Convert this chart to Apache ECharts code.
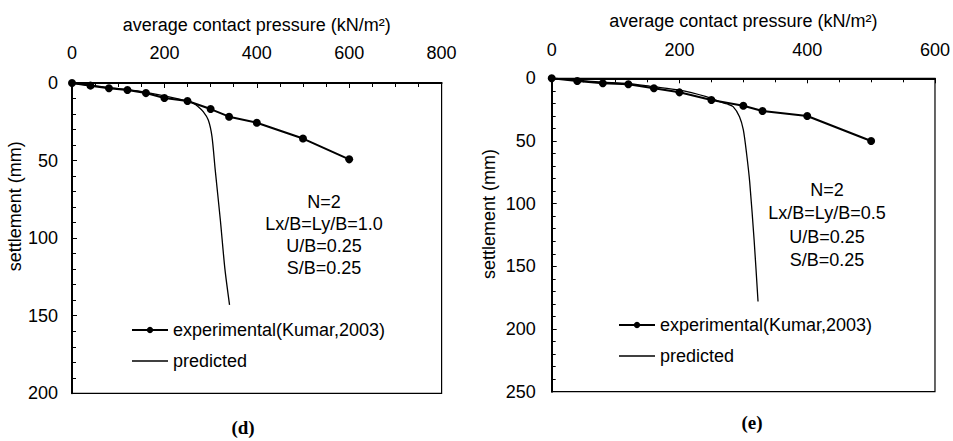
<!DOCTYPE html>
<html><head><meta charset="utf-8">
<script src="https://cdn.jsdelivr.net/npm/echarts@6/dist/echarts.min.js"></script>
<style>html,body{margin:0;padding:0;background:#fff}#c{width:953px;height:441px}</style>
</head><body><div id="c"></div>
<script>
// ---- data ----
const expName = 'experimental(Kumar,2003)';
const predName = 'predicted';
const xName = 'average contact pressure (kN/m\u00B2)';
const yName = 'settlement (mm)';

// chart (d)
const dExpPressure = [0, 40, 80, 120, 160, 200, 250, 300, 340, 400, 500, 600];
const dExpSettle   = [0, 1.7, 3.4, 4.5, 6.5, 9.7, 11.6, 16.8, 21.7, 25.6, 35.8, 49.2];
const dPredPressure = [0, 40, 80, 120, 160, 200, 230, 250, 262, 272, 284, 295, 303, 310, 321, 331, 341];
const dPredSettle   = [0, 1.5, 3.0, 4.3, 6.0, 8.3, 10.2, 11.6, 13.0, 15.0, 18.5, 23.9, 34.6, 56, 88, 120, 143];
const dXTicks = [0, 200, 400, 600, 800];
const dYTicks = [0, 50, 100, 150, 200];
const dNotes = ['N=2', 'Lx/B=Ly/B=1.0', 'U/B=0.25', 'S/B=0.25'];
const dLabel = '(d)';

// chart (e)
const eExpPressure = [0, 40, 80, 120, 160, 200, 250, 300, 330, 400, 500];
const eExpSettle   = [0, 2.2, 4.0, 4.8, 8.0, 11.2, 17.3, 21.9, 26.1, 30.1, 50.0];
const ePredPressure = [0, 38, 78, 118, 159, 199, 242, 263, 275, 284, 294, 300, 305, 310, 317, 323];
const ePredSettle   = [0, 1.4, 3.0, 4.0, 6.7, 9.3, 14.7, 18.7, 20.5, 22.6, 30.6, 41.2, 59.8, 83, 130, 178];
const eXTicks = [0, 200, 400, 600];
const eYTicks = [0, 50, 100, 150, 200, 250];
const eNotes = ['N=2', 'Lx/B=Ly/B=0.5', 'U/B=0.25', 'S/B=0.25'];
const eLabel = '(e)';

// ---- build ----
const FF = "'Liberation Sans', Arial, sans-serif";
const SERIF = "'Liberation Serif', 'Times New Roman', serif";
const zip = (a, b) => a.map((v, i) => [v, b[i]]);

function xAx(gi, ticks, margin, nameGap) {
  return {
    type: 'value', gridIndex: gi, position: 'top',
    min: ticks[0], max: ticks[ticks.length - 1], interval: ticks[1] - ticks[0],
    name: xName, nameLocation: 'middle', nameGap: nameGap,
    nameTextStyle: { fontSize: 18, fontFamily: FF, color: '#000' },
    axisLine: { show: true, onZero: false, lineStyle: { color: '#000', width: 2 } },
    axisTick: { show: true, inside: true, length: 5, lineStyle: { color: '#000', width: 1 } },
    minorTick: { show: true, splitNumber: 4, length: 4, lineStyle: { color: '#000', width: 1 } },
    axisLabel: { margin: margin, color: '#000', fontSize: 18, fontFamily: FF },
    splitLine: { show: false }
  };
}
function yAx(gi, ticks, margin, nameGap, shift) {
  return {
    type: 'value', gridIndex: gi, inverse: true,
    min: ticks[0], max: ticks[ticks.length - 1], interval: ticks[1] - ticks[0],
    name: yName, nameLocation: 'middle', nameGap: nameGap,
    nameTextStyle: { fontSize: 18, fontFamily: FF, color: '#000', padding: [0, 0, 0, shift] },
    axisLine: { show: true, onZero: false, lineStyle: { color: '#000', width: 2 } },
    axisTick: { show: true, inside: true, length: 5, lineStyle: { color: '#000', width: 1 } },
    minorTick: { show: true, splitNumber: 5, length: 4, lineStyle: { color: '#000', width: 1 } },
    axisLabel: { margin: margin, color: '#000', fontSize: 18, fontFamily: FF },
    splitLine: { show: false }
  };
}
function expSeries(gi, x, y) {
  return { name: expName, type: 'line', xAxisIndex: gi, yAxisIndex: gi, data: zip(x, y),
    symbol: 'circle', symbolSize: 8, lineStyle: { color: '#000', width: 2 },
    itemStyle: { color: '#000' }, z: 3 };
}
function predSeries(gi, x, y) {
  return { name: predName, type: 'line', xAxisIndex: gi, yAxisIndex: gi, data: zip(x, y),
    symbol: 'none', smooth: 0.25, lineStyle: { color: '#000', width: 1.3 },
    itemStyle: { color: '#000' }, z: 2 };
}
function notes(lines, cx, y0, step) {
  return lines.map((t, i) => ({ type: 'text', x: cx, y: y0 + i * step,
    style: { text: t, align: 'center', verticalAlign: 'middle', fontSize: 18, fontFamily: FF, fill: '#000' } }));
}
function legend(left, top) {
  return {
    data: [
      { name: expName },
      { name: predName, icon: 'path://M0,0H36V1.3H0Z', itemStyle: { color: '#000', borderWidth: 0 } }
    ],
    orient: 'vertical', left: left, top: top, symbolKeepAspect: true,
    itemWidth: 36, itemHeight: 8, itemGap: 13,
    textStyle: { fontSize: 18, fontFamily: FF, color: '#000' }, selectedMode: false };
}

const option = {
  animation: false,
  backgroundColor: '#fff',
  grid: [
    { left: 72, top: 83, width: 369.6, height: 310.3, show: true, borderColor: '#000', borderWidth: 1.2, backgroundColor: 'transparent' },
    { left: 551.7, top: 78.3, width: 384.3, height: 313.4, show: true, borderColor: '#000', borderWidth: 1.2, backgroundColor: 'transparent' }
  ],
  xAxis: [ xAx(0, dXTicks, 21, 49), xAx(1, eXTicks, 19, 48) ],
  yAxis: [ yAx(0, dYTicks, 14, 45, 64), yAx(1, eYTicks, 16, 54, 42) ],
  legend: [ legend(126, 316), legend(613, 311) ],
  series: [
    predSeries(0, dPredPressure, dPredSettle), expSeries(0, dExpPressure, dExpSettle),
    predSeries(1, ePredPressure, ePredSettle), expSeries(1, eExpPressure, eExpSettle)
  ],
  graphic: [].concat(
    notes(dNotes, 324, 202, 22),
    notes(eNotes, 827, 190, 23.3),
    [
      { type: 'text', x: 243, y: 427, style: { text: dLabel, align: 'center', verticalAlign: 'middle', fontSize: 19, fontWeight: 'bold', fontFamily: SERIF, fill: '#000' } },
      { type: 'text', x: 752, y: 422, style: { text: eLabel, align: 'center', verticalAlign: 'middle', fontSize: 19, fontWeight: 'bold', fontFamily: SERIF, fill: '#000' } }
    ]
  )
};
const chart = echarts.init(document.getElementById('c'), null, { renderer: 'svg' });
chart.setOption(option);
</script></body></html>
